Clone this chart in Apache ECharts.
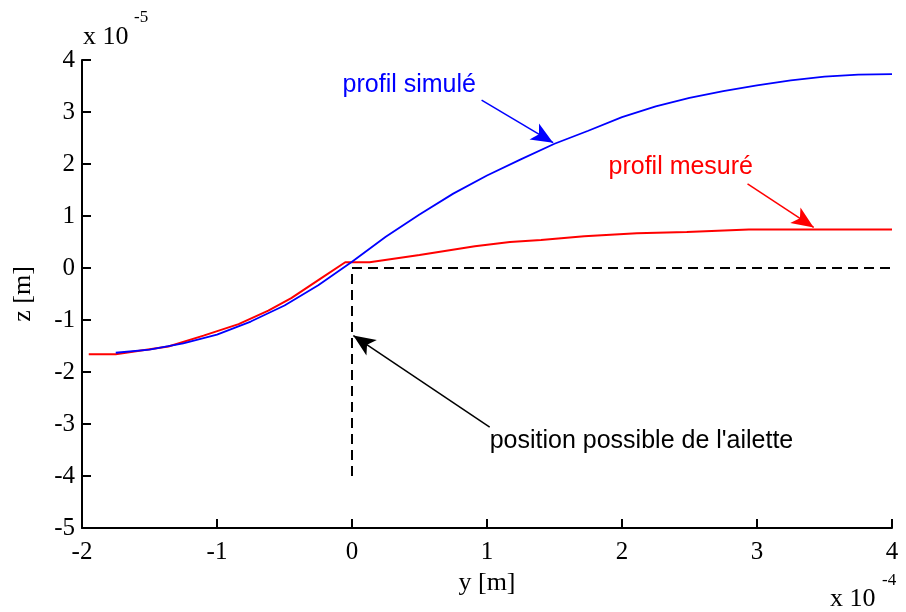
<!DOCTYPE html>
<html>
<head>
<meta charset="utf-8">
<script src="https://cdn.jsdelivr.net/npm/echarts@6/dist/echarts.min.js"></script>
<style>html,body{margin:0;padding:0;background:#fff;}#c{width:906px;height:612px;}</style>
</head>
<body>
<div id="c"></div>
<script>
// ---- data (y in units of 1e-4 m, z in units of 1e-5 m) ----
const simY = [-1.75,-1.5,-1.25,-1.0,-0.75,-0.5,-0.25,0,0.25,0.5,0.75,1.0,1.25,1.5,1.75,2.0,2.25,2.5,2.75,3.0,3.25,3.5,3.75,4.0];
const simZ = [-1.63,-1.57,-1.45,-1.28,-1.03,-0.72,-0.33,0.12,0.6,1.03,1.43,1.78,2.09,2.39,2.64,2.90,3.11,3.27,3.40,3.51,3.61,3.68,3.72,3.73];
const mesY = [-1.95,-1.75,-1.36,-1.1,-0.84,-0.62,-0.45,-0.23,-0.05,0.13,0.5,0.91,1.17,1.4,1.72,2.11,2.48,2.94,4.0];
const mesZ = [-1.66,-1.66,-1.51,-1.3,-1.08,-0.82,-0.58,-0.2,0.11,0.11,0.25,0.42,0.5,0.54,0.61,0.67,0.69,0.74,0.74];
const finY = [0,0,4];
const finZ = [-4,0,0];
// annotations
const annText = ['profil simulé','profil mesuré','position possible de l\'ailette'];
const annColor = ['#0000ff','#ff0000','#000000'];
const annY = [-0.07,1.90,1.02];
const annZ = [3.52,1.94,-3.32];
const arrFromY = [0.96,2.93,1.02];
const arrFromZ = [3.23,1.62,-3.06];
const arrToY = [1.49,3.42,0.01];
const arrToZ = [2.41,0.78,-1.30];
const xTicks = {min:-2,max:4,interval:1};
const yTicks = {min:-5,max:4,interval:1};

const zip = (a,b)=>a.map((v,i)=>[v,b[i]]);
const serif = 'Liberation Serif';
const sans = 'Liberation Sans';

const axisCommon = {
  type:'value',
  axisLine:{show:true,onZero:false,lineStyle:{color:'#000',width:2}},
  axisTick:{show:true,inside:true,length:9,lineStyle:{color:'#000',width:2}},
  splitLine:{show:false},
  axisLabel:{color:'#000',fontFamily:serif,fontSize:25},
  nameLocation:'middle',
  nameTextStyle:{color:'#000',fontFamily:serif,fontSize:26}
};

const chart = echarts.init(document.getElementById('c'),null,{renderer:'canvas'});
chart.setOption({
  animation:false,
  backgroundColor:'#fff',
  grid:{left:82,right:14,top:60,bottom:84,containLabel:false},
  xAxis:Object.assign({},axisCommon,xTicks,{name:'y [m]',nameGap:40,
    axisLabel:Object.assign({},axisCommon.axisLabel,{margin:12})}),
  yAxis:Object.assign({},axisCommon,yTicks,{name:'z [m]',nameGap:46,
    axisLabel:Object.assign({},axisCommon.axisLabel,{margin:7})}),
  graphic:[
    {type:'text',left:83,top:24,style:{text:'x 10',font:'26px "Liberation Serif"',fill:'#000'}},
    {type:'text',left:134,top:9,style:{text:'-5',font:'17px "Liberation Serif"',fill:'#000'}},
    {type:'text',left:830,top:586,style:{text:'x 10',font:'26px "Liberation Serif"',fill:'#000'}},
    {type:'text',left:882,top:572,style:{text:'-4',font:'17px "Liberation Serif"',fill:'#000'}}
  ],
  series:[
    {type:'line',name:'fin',data:zip(finY,finZ),showSymbol:false,
      lineStyle:{color:'#000',width:2,type:[10,6]},z:1},
    {type:'line',name:'profil simulé',data:zip(simY,simZ),showSymbol:false,
      lineStyle:{color:'#0000ff',width:1.8},z:3},
    {type:'line',name:'profil mesuré',data:zip(mesY,mesZ),showSymbol:false,
      lineStyle:{color:'#ff0000',width:2},z:2},
    {type:'scatter',symbolSize:0,silent:true,z:5,
      data:annY.map((v,i)=>({value:[v,annZ[i]],name:annText[i],
        label:{show:true,position:'right',distance:0,formatter:annText[i],
          color:annColor[i],fontFamily:sans,fontSize:25,opacity:1}})),
      markLine:{silent:true,symbol:['none','arrow'],symbolSize:[14,22],precision:4,
        label:{show:false},emphasis:{disabled:true},animation:false,
        data:arrFromY.map((v,i)=>[
          {coord:[v,arrFromZ[i]],lineStyle:{color:annColor[i],width:1.5,type:'solid'},itemStyle:{color:annColor[i]}},
          {coord:[arrToY[i],arrToZ[i]],itemStyle:{color:annColor[i]}}
        ])}}
  ]
});
</script>
</body>
</html>
